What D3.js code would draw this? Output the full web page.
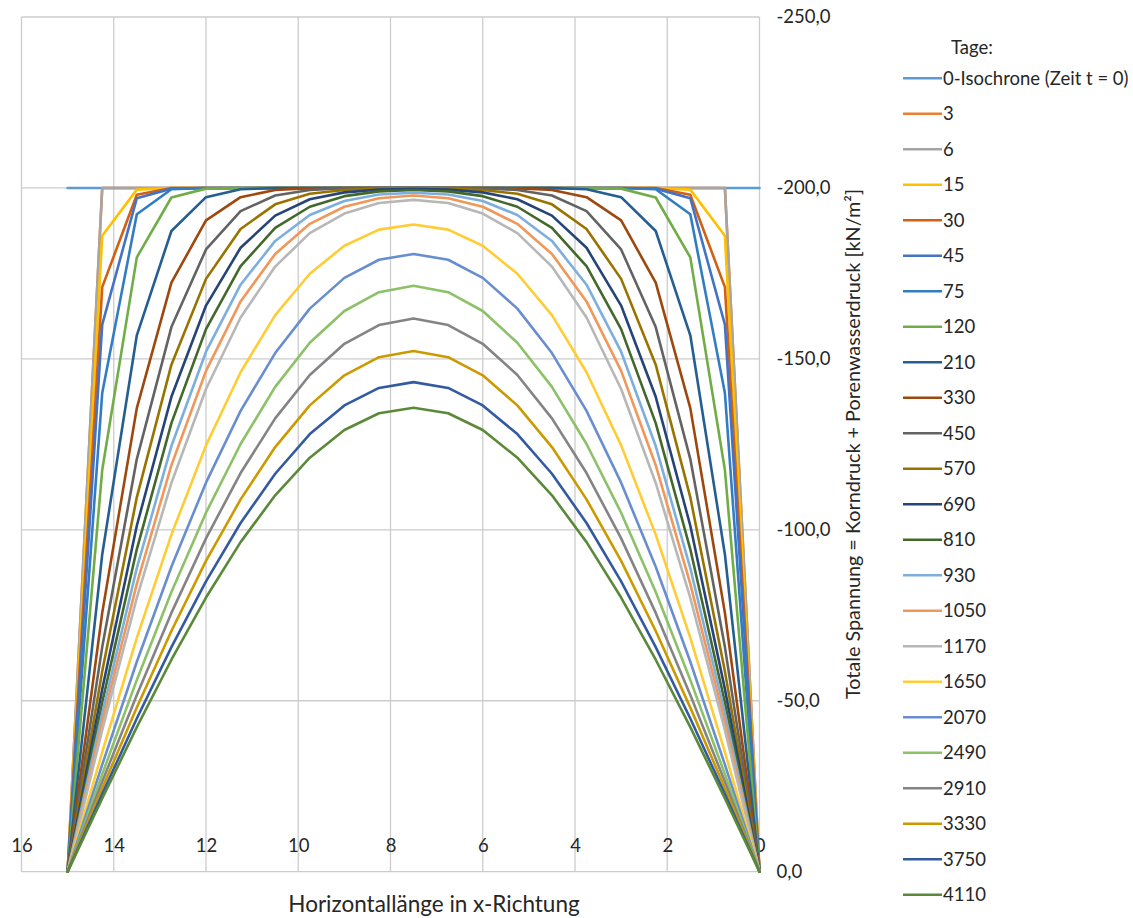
<!DOCTYPE html>
<html>
<head>
<meta charset="utf-8">
<script src="https://cdn.jsdelivr.net/npm/d3@7"></script>
<style>
  body { margin: 0; background: #ffffff; }
  svg { display: block; }
  text { font-family: Lato, "Open Sans", sans-serif; fill: #262626; }
</style>
</head>
<body>
<svg id="chart" width="1133" height="918"></svg>
<script>
// Node positions along the layer (m)
const xNodes = [15, 14.25, 13.5, 12.75, 12, 11.25, 10.5, 9.75, 9, 8.25, 7.5,
                6.75, 6, 5.25, 4.5, 3.75, 3, 2.25, 1.5, 0.75, 0];

const xTicks = [16, 14, 12, 10, 8, 6, 4, 2, 0];
const yTicks = [-250, -200, -150, -100, -50, 0];

const seriesNames = ["0-Isochrone (Zeit t = 0)", "3", "6", "15", "30", "45", "75", "120",
  "210", "330", "450", "570", "690", "810", "930", "1050", "1170", "1650", "2070",
  "2490", "2910", "3330", "3750", "4110"];

const seriesColors = ["#5B9BD5", "#ED7D31", "#A5A5A5", "#FFC000", "#D26012", "#4472C4",
  "#327DC2", "#70AD47", "#255E91", "#9E480E", "#636363", "#997300", "#264478", "#43682B",
  "#7CAFDD", "#F1975A", "#B7B7B7", "#FFCD33", "#698ED0", "#8CC168", "#848484", "#CC9A00",
  "#335AA1", "#5A8A39"];

// Total stress (kN/m²) at each node, one array per isochrone
const iso0 = [-200,-200,-200,-200,-200,-200,-200,-200,-200,-200,-200,-200,-200,-200,-200,-200,-200,-200,-200,-200,-200];
const day3 = [0,-200,-200,-200,-200,-200,-200,-200,-200,-200,-200,-200,-200,-200,-200,-200,-200,-200,-200,-200,0];
const day6 = [0,-200,-200,-200,-200,-200,-200,-200,-200,-200,-200,-200,-200,-200,-200,-200,-200,-200,-200,-200,0];
const day15 = [0,-186,-199.5,-200,-200,-200,-200,-200,-200,-200,-200,-200,-200,-200,-200,-200,-200,-200,-199.5,-186,0];
const day30 = [0,-171,-198,-200,-200,-200,-200,-200,-200,-200,-200,-200,-200,-200,-200,-200,-200,-200,-198,-171,0];
const day45 = [0,-160,-197,-199.8,-200,-200,-200,-200,-200,-200,-200,-200,-200,-200,-200,-200,-200,-199.8,-197,-160,0];
const day75 = [0,-140,-192.3,-199.6,-200,-200,-200,-200,-200,-200,-200,-200,-200,-200,-200,-200,-200,-199.6,-192.3,-140,0];
const day120 = [0,-117.5,-179.7,-197.2,-199.8,-200,-200,-200,-200,-200,-200,-200,-200,-200,-200,-200,-199.8,-197.2,-179.7,-117.5,0];
const day210 = [0,-92.8,-156.9,-187.4,-197.3,-199.6,-200,-200,-200,-200,-200,-200,-200,-200,-200,-199.6,-197.3,-187.4,-156.9,-92.8,0];
const day330 = [0,-75.7,-135.6,-172.3,-190.5,-197.3,-199.4,-199.9,-200,-200,-200,-200,-200,-199.9,-199.4,-197.3,-190.5,-172.3,-135.6,-75.7,0];
const day450 = [0,-65.7,-120.7,-159.3,-182,-193.2,-197.8,-199.4,-199.9,-200,-200,-200,-199.9,-199.4,-197.8,-193.2,-182,-159.3,-120.7,-65.7,0];
const day570 = [0,-58.6,-109.5,-148.3,-173.4,-188,-195.2,-198.3,-199.4,-199.9,-199.9,-199.9,-199.4,-198.3,-195.2,-188,-173.4,-148.3,-109.5,-58.6,0];
const day690 = [0,-53.4,-101.2,-138.9,-165.6,-182.5,-191.9,-196.7,-198.7,-199.5,-199.7,-199.5,-198.7,-196.7,-191.9,-182.5,-165.6,-138.9,-101.2,-53.4,0];
const day810 = [0,-49.5,-94.3,-131.2,-158.7,-177.1,-188.3,-194.5,-197.6,-199,-199.4,-199,-197.6,-194.5,-188.3,-177.1,-158.7,-131.2,-94.3,-49.5,0];
const day930 = [0,-46.3,-88.8,-124.5,-152.1,-171.7,-184.5,-192.1,-196.2,-198.1,-198.6,-198.1,-196.2,-192.1,-184.5,-171.7,-152.1,-124.5,-88.8,-46.3,0];
const day1050 = [0,-43.7,-84.2,-118.9,-146.5,-166.8,-180.7,-189.5,-194.5,-197,-197.8,-197,-194.5,-189.5,-180.7,-166.8,-146.5,-118.9,-84.2,-43.7,0];
const day1170 = [0,-41.4,-80.1,-113.7,-141.2,-162.1,-177,-186.8,-192.5,-195.6,-196.5,-195.6,-192.5,-186.8,-177,-162.1,-141.2,-113.7,-80.1,-41.4,0];
const day1650 = [0,-35,-68.4,-98.6,-124.7,-146.1,-162.8,-174.9,-183.1,-187.8,-189.3,-187.8,-183.1,-174.9,-162.8,-146.1,-124.7,-98.6,-68.4,-35,0];
const day2070 = [0,-31.3,-61.4,-89.2,-113.8,-134.8,-151.7,-164.7,-173.7,-179,-180.7,-179,-173.7,-164.7,-151.7,-134.8,-113.8,-89.2,-61.4,-31.3,0];
const day2490 = [0,-28.5,-56.1,-81.8,-105,-125.1,-141.8,-154.7,-164,-169.5,-171.4,-169.5,-164,-154.7,-141.8,-125.1,-105,-81.8,-56.1,-28.5,0];
const day2910 = [0,-26.3,-51.7,-75.7,-97.5,-116.6,-132.6,-145.3,-154.4,-159.9,-161.8,-159.9,-154.4,-145.3,-132.6,-116.6,-97.5,-75.7,-51.7,-26.3,0];
const day3330 = [0,-24.4,-48,-70.4,-90.9,-108.9,-124.2,-136.4,-145.2,-150.5,-152.3,-150.5,-145.2,-136.4,-124.2,-108.9,-90.9,-70.4,-48,-24.4,0];
const day3750 = [0,-22.7,-44.8,-65.7,-84.9,-102,-116.4,-128,-136.4,-141.5,-143.2,-141.5,-136.4,-128,-116.4,-102,-84.9,-65.7,-44.8,-22.7,0];
const day4110 = [0,-21.4,-42.3,-62,-80.2,-96.4,-110.1,-121.1,-129.2,-134.1,-135.7,-134.1,-129.2,-121.1,-110.1,-96.4,-80.2,-62,-42.3,-21.4,0];

const seriesValues = [iso0, day3, day6, day15, day30, day45, day75, day120, day210, day330,
  day450, day570, day690, day810, day930, day1050, day1170, day1650, day2070, day2490,
  day2910, day3330, day3750, day4110];

const svg = d3.select("#chart");

// Plot frame: x runs from 16 (left) to 0 (right), y from -250 (top) to 0 (bottom)
const plot = { left: 21.5, right: 759.5, top: 17, bottom: 871.7 };
const x = d3.scaleLinear().domain([16, 0]).range([plot.left, plot.right]);
const y = d3.scaleLinear().domain([-250, 0]).range([plot.top, plot.bottom]);

const locale = d3.formatLocale({ decimal: ",", thousands: ".", grouping: [3], currency: ["", " €"], minus: "-" });
const fmtY = locale.format(".1f");
const labelColor = "#404040";
const gridColor = "#cccccc";
const tickFont = 18.5;

// Gridlines
const grid = svg.append("g").attr("class", "grid");
grid.selectAll("line.v").data(xTicks).join("line")
  .attr("class", "v")
  .attr("x1", d => x(d)).attr("x2", d => x(d))
  .attr("y1", plot.top).attr("y2", plot.bottom)
  .attr("stroke", gridColor).attr("stroke-width", 1.3);
grid.selectAll("line.h").data(yTicks).join("line")
  .attr("class", "h")
  .attr("x1", plot.left).attr("x2", plot.right)
  .attr("y1", d => y(d)).attr("y2", d => y(d))
  .attr("stroke", gridColor).attr("stroke-width", 1.3);

// Horizontal axis: labels sit just above the zero line
const xAxis = d3.axisTop(x).tickValues(xTicks).tickSize(0).tickPadding(0).tickFormat(d3.format("d"));
const gx = svg.append("g").attr("transform", `translate(0,${plot.bottom - 20})`).call(xAxis);
gx.select(".domain").remove();
gx.selectAll("text").attr("font-size", tickFont).attr("fill", labelColor).attr("font-family", "Lato, sans-serif");

// Vertical axis on the right at x = 0
const yAxis = d3.axisRight(y).tickValues(yTicks).tickSize(0).tickPadding(17).tickFormat(fmtY);
const gy = svg.append("g").attr("transform", `translate(${plot.right},0)`).call(yAxis);
gy.select(".domain").remove();
gy.selectAll("text").attr("font-size", tickFont).attr("fill", labelColor).attr("font-family", "Lato, sans-serif");

// Isochrones
const line = d3.line().x((d, i) => x(xNodes[i])).y(d => y(d));
svg.append("g").selectAll("path").data(seriesValues).join("path")
  .attr("d", d => line(d))
  .attr("fill", "none")
  .attr("stroke", (d, i) => seriesColors[i])
  .attr("stroke-width", 2.6)
  .attr("stroke-linejoin", "round")
  .attr("stroke-linecap", "round");

// Axis titles
svg.append("text")
  .attr("x", 434).attr("y", 912)
  .attr("text-anchor", "middle").attr("font-size", 22.5).attr("fill", labelColor)
  .text("Horizontallänge in x-Richtung");
svg.append("text")
  .attr("transform", "translate(860,444) rotate(-90)")
  .attr("text-anchor", "middle").attr("font-size", 19.8).attr("fill", labelColor)
  .text("Totale Spannung = Korndruck + Porenwasserdruck [kN/m²]");

// Legend
const legend = svg.append("g");
legend.append("text").attr("x", 951).attr("y", 48).attr("dy", "0.35em")
  .attr("font-size", 18.5).attr("fill", labelColor).text("Tage:");
const item = legend.selectAll("g.item").data(seriesNames).join("g")
  .attr("class", "item")
  .attr("transform", (d, i) => `translate(0,${78.3 + 35.5 * i})`);
item.append("line").attr("x1", 903).attr("x2", 942).attr("y1", 0).attr("y2", 0)
  .attr("stroke", (d, i) => seriesColors[i]).attr("stroke-width", 2.6);
item.append("text").attr("x", 943).attr("y", 0).attr("dy", "0.35em")
  .attr("font-size", 18.5).attr("fill", labelColor).text(d => d);
</script>
</body>
</html>
